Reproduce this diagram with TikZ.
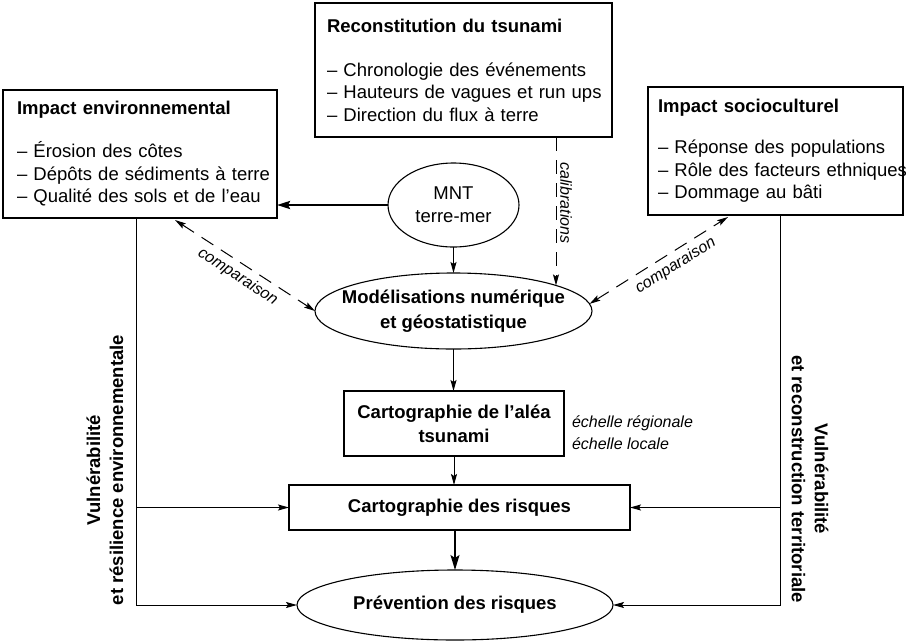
\documentclass[tikz,border=0pt]{standalone}
\usepackage{fontspec}
\setmainfont{Liberation Sans}
\usetikzlibrary{arrows.meta,calc,shapes.geometric}
\begin{document}
\begin{tikzpicture}[x=1pt,y=-1pt,
  >={Stealth[length=11pt,width=6pt,inset=2pt]},
  every node/.style={inner sep=0pt, outer sep=0pt},
  box/.style={draw, line width=1.1pt, anchor=north west, align=left, font=\fontsize{18.5}{22.5}\selectfont},
  rbox/.style={draw, line width=1.1pt, align=center, font=\bfseries\fontsize{18.5}{24}\selectfont},
  ell/.style={draw, ellipse, line width=1.1pt, align=center, inner sep=0pt},
  lab/.style={font=\itshape\fontsize{16}{22}\selectfont},
  vlab/.style={align=center, font=\bfseries\fontsize{18.5}{23}\selectfont},
  con/.style={line width=1pt},
  arr/.style={con, ->},
  bigarr/.style={line width=1.3pt, -{Stealth[length=15pt,width=9pt,inset=3pt]}},
  thickarr/.style={line width=2.4pt, -{Stealth[length=13pt,width=8pt,inset=2pt]}},
  dshd/.style={dash pattern=on 14pt off 9pt}
]
\useasboundingbox (0,0) rectangle (906,641);

% boxes
\node[box, minimum width=274pt, minimum height=128pt, text width=246pt, inner xsep=14pt] (env) at (3,90)
  {\textbf{Impact environnemental}\\[20.5pt]\mbox{– Érosion des côtes}\\\mbox{– Dépôts de sédiments à terre}\\\mbox{– Qualité des sols et de l’eau}};
\node[box, minimum width=297pt, minimum height=134pt, text width=273pt, inner xsep=12pt] (rec) at (315,3)
  {\textbf{Reconstitution du tsunami}\\[21.5pt]\mbox{– Chronologie des événements}\\\mbox{– Hauteurs de vagues et run ups}\\\mbox{– Direction du flux à terre}};
\node[box, minimum width=255pt, minimum height=128pt, text width=235pt, inner xsep=10pt] (soc) at (648,87)
  {\textbf{Impact socioculturel}\\[18.5pt]\mbox{– Réponse des populations}\\\mbox{– Rôle des facteurs ethniques}\\\mbox{– Dommage au bâti}};

% ellipses and central boxes
\node[ell, minimum width=131pt, minimum height=84pt, font=\fontsize{18.5}{23}\selectfont] (mnt) at (453.5,205)
  {\makebox[0pt]{MNT}\\\makebox[0pt]{terre-mer}};
\node[ell, minimum width=277pt, minimum height=76pt, font=\bfseries\fontsize{18.5}{25}\selectfont] (mod) at (453.5,311)
  {\makebox[0pt]{Modélisations numérique}\\\makebox[0pt]{et géostatistique}};
\node[rbox, minimum width=220pt, minimum height=65pt] (alea) at (454,423.5) {Cartographie de l’aléa\\tsunami};
\node[rbox, minimum width=341pt, minimum height=45pt] (risk) at (459.5,507.5) {Cartographie des risques};
\node[ell, minimum width=316pt, minimum height=70pt, font=\bfseries\fontsize{18.5}{23}\selectfont] (prev) at (455,605)
  {\makebox[0pt]{Prévention des risques}};

% labels
\node[lab, anchor=west, align=left] (ech) at (572,433) {échelle régionale\\échelle locale};
\node[vlab, rotate=90] (vl) at (105,470) {Vulnérabilité\\et résilience environnementale};
\node[vlab, rotate=-90] (vr) at (810,479) {Vulnérabilité\\et reconstruction territoriale};
\node[lab, rotate=-90] (calib) at (566,203) {calibrations};

\coordinate (lx) at (136,0);
\coordinate (rx) at (780,0);
\coordinate (cl) at ($(env.south west)+(172,2)$);
\coordinate (cr) at ($(soc.south west)+(80,2)$);

% connectors
\draw[thickarr] (mnt.west) -- (mnt.west -| env.east);
\draw[arr] (mnt.south) -- (mnt.south |- mod.north);
\draw[arr, dshd] (rec.south -| mod.14) -- (mod.14);
\draw[con, dshd, <->] (cl) -- (mod.west)
  node[lab, midway, sloped, below=6pt] (cmpl) {comparaison};
\draw[con, dshd, <->] (mod.3) -- (cr)
  node[lab, pos=0.57, sloped, below=6pt] (cmpr) {comparaison};
\draw[arr] (mod.south) -- (mod.south |- alea.north);
\draw[arr] (alea.south) -- (alea.south |- risk.north);
\draw[bigarr] (risk.south -| prev.north) -- (prev.north);

\draw[arr] (env.south -| lx) -- (lx |- prev.west) -- (prev.west);
\draw[arr] (lx |- risk.west) -- (risk.west);
\draw[arr] (soc.south -| rx) -- (rx |- prev.east) -- (prev.east);
\draw[arr] (rx |- risk.east) -- (risk.east);
\end{tikzpicture}
\end{document}
